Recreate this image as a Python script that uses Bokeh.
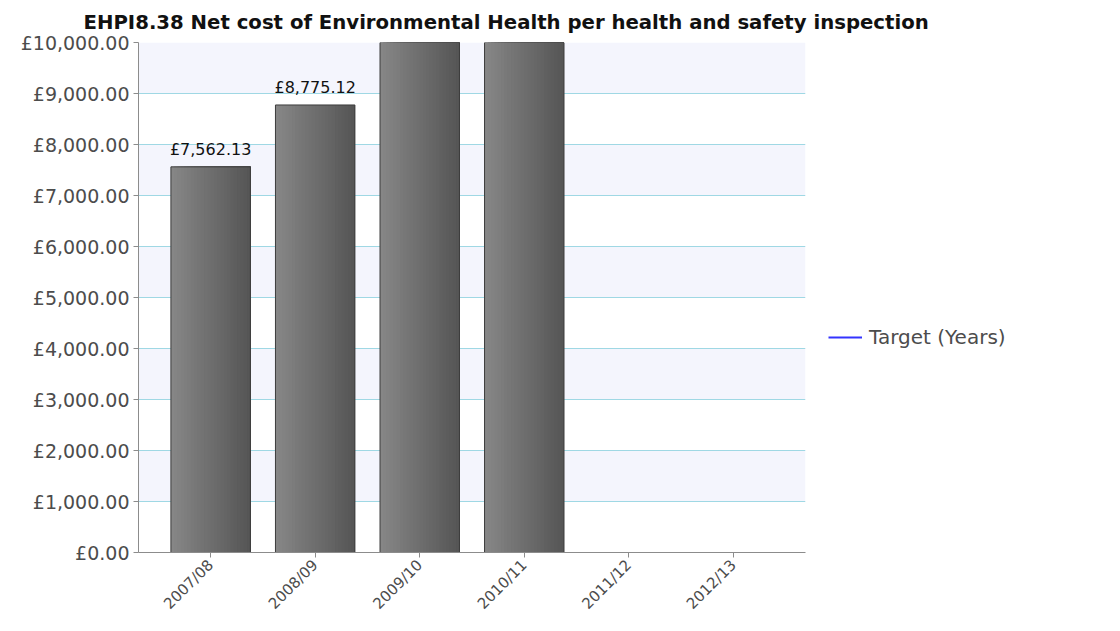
import math
from bokeh.plotting import figure
from bokeh.models import (FactorRange, Range1d, FixedTicker, Legend, LegendItem,
                          ColumnDataSource)
from bokeh.transform import dodge
from bokeh.core.properties import value
from bokeh.embed import file_html
from bokeh.resources import INLINE

# ---- data ----
categories = ["2007/08", "2008/09", "2009/10", "2010/11", "2011/12", "2012/13"]
net_cost = [7562.13, 8775.12, 10950.00, 11400.00, None, None]
target_years = [None, None, None, None, None, None]  # no target values shown
y_ticks = [0, 1000, 2000, 3000, 4000, 5000, 6000, 7000, 8000, 9000, 10000]
y_tick_labels = ["£0.00", "£1,000.00", "£2,000.00", "£3,000.00", "£4,000.00",
                 "£5,000.00", "£6,000.00", "£7,000.00", "£8,000.00",
                 "£9,000.00", "£10,000.00"]
title_text = "EHPI8.38 Net cost of Environmental Health per health and safety inspection"

FONT = "DejaVu Sans"
Y_MAX = y_ticks[-1]

bar_cats = [c for c, v in zip(categories, net_cost) if v is not None]
bar_vals = [v for v in net_cost if v is not None]
src = ColumnDataSource(dict(cat=bar_cats, val=bar_vals))

lab_cats = [c for c, v in zip(bar_cats, bar_vals) if v <= Y_MAX]
lab_vals = [v for v in bar_vals if v <= Y_MAX]
lab_src = ColumnDataSource(dict(cat=lab_cats, val=lab_vals,
                                lab=["£{:,.2f}".format(v) for v in lab_vals]))

p = figure(frame_width=667, frame_height=510, output_backend="svg",
           toolbar_location=None,
           x_range=FactorRange(*categories, range_padding=0.19,
                               range_padding_units="absolute"),
           y_range=Range1d(0, Y_MAX))
p.min_border_left = 138
p.min_border_right = 10
p.min_border_top = 42
p.min_border_bottom = 50
p.outline_line_color = None
p.background_fill_color = "white"
p.border_fill_color = "white"

# title
p.title.text = title_text
p.title.text_font = FONT
p.title.text_font_size = "19.7px"
p.title.text_font_style = "bold"
p.title.text_color = "#111111"
p.title.align = "left"
p.title.offset = -55
p.title.vertical_align = "bottom"
p.title.standoff = 17

# grid
p.xgrid.grid_line_color = None
p.ygrid.ticker = FixedTicker(ticks=y_ticks)
p.ygrid.grid_line_color = "#9fd8e4"
p.ygrid.grid_line_width = 1
p.ygrid.band_fill_color = "#f4f5fd"
p.ygrid.band_fill_alpha = 1.0

# axes
p.yaxis.ticker = FixedTicker(ticks=y_ticks)
p.yaxis.major_label_overrides = {t: l for t, l in zip(y_ticks, y_tick_labels)}
p.yaxis.major_label_text_font = FONT
p.yaxis.major_label_text_font_size = "19px"
p.yaxis.major_label_text_color = "#4c4c4c"
p.yaxis.axis_line_color = "#8c8c8c"
p.yaxis.major_tick_line_color = "#8c8c8c"
p.yaxis.major_tick_out = 5
p.yaxis.major_tick_in = 0
p.yaxis.minor_tick_line_color = None
p.yaxis.major_label_standoff = 4

p.xaxis.major_label_orientation = math.pi / 4
p.xaxis.major_label_text_font = FONT
p.xaxis.major_label_text_font_size = "15px"
p.xaxis.major_label_text_color = "#4c4c4c"
p.xaxis.axis_line_color = "#8c8c8c"
p.xaxis.major_tick_line_color = "#8c8c8c"
p.xaxis.major_tick_out = 5
p.xaxis.major_tick_in = 0
p.xaxis.major_label_standoff = 5

# bars with a left-to-right gradient: nested strips sharing the right edge
BAR_W = 0.76
N = 24
c0 = (0x86, 0x86, 0x86)
c1 = (0x56, 0x56, 0x56)
for i in range(N):
    t = i / (N - 1)
    col = "#%02x%02x%02x" % tuple(int(round(a + (b - a) * t)) for a, b in zip(c0, c1))
    w = BAR_W * (1 - i / N)
    off = BAR_W / 2 - w / 2
    p.vbar(x=dodge("cat", off, range=p.x_range), top="val", bottom=0,
           width=w, source=src, fill_color=col, line_color=None)
p.vbar(x="cat", top="val", bottom=0, width=BAR_W, source=src,
       fill_color=None, line_color="#3c3c3c", line_width=1)

# value labels
p.text(x="cat", y="val", text="lab", source=lab_src, text_align="center",
       text_baseline="bottom", y_offset=-8, text_font=value(FONT),
       text_font_size="16px", text_color="#111111")

# target series (no values)
tsrc = ColumnDataSource(dict(cat=categories, val=[float("nan") if v is None else v
                                                  for v in target_years]))
r_target = p.line(x="cat", y="val", source=tsrc, line_color="#3333ff", line_width=2)

legend = Legend(items=[LegendItem(label="Target (Years)", renderers=[r_target])],
                location=(23, 203), border_line_color=None,
                background_fill_alpha=0, glyph_width=34,
                label_text_font=FONT, label_text_font_size="20px",
                label_text_color="#4c4c4c", padding=10, spacing=0, margin=0,
                label_standoff=7)
p.add_layout(legend, "right")

open("out.html", "w").write(file_html(p, INLINE))
